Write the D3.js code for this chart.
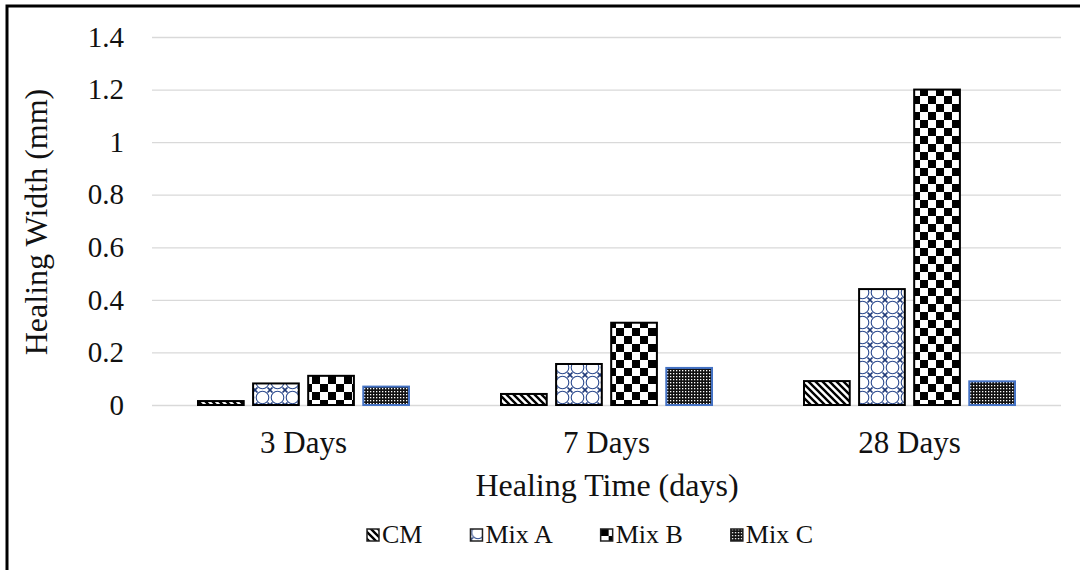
<!DOCTYPE html>
<html>
<head>
<meta charset="utf-8">
<script src="https://cdn.jsdelivr.net/npm/d3@7"></script>
<style>
  body { margin: 0; background: #fff; }
  svg { display: block; font-family: "Liberation Serif", "Times New Roman", serif; }
</style>
</head>
<body>
<svg id="chart" width="1080" height="570"></svg>
<script>
// Data
var categories = ["3 Days", "7 Days", "28 Days"];
var seriesNames = ["CM", "Mix A", "Mix B", "Mix C"];
var cmValues = [0.015, 0.042, 0.091];
var mixAValues = [0.082, 0.156, 0.441];
var mixBValues = [0.111, 0.313, 1.2];
var mixCValues = [0.07, 0.141, 0.09];
var yTickValues = [0, 0.2, 0.4, 0.6, 0.8, 1, 1.2, 1.4];

var seriesValues = [cmValues, mixAValues, mixBValues, mixCValues];

var svg = d3.select("#chart");
var plotLeft = 152, plotRight = 1061, plotTop = 37, plotBottom = 405;

// ydre ramme (kun venstre og top ses)
svg.append("rect")
    .attr("x", 7).attr("y", 6)
    .attr("width", 1100).attr("height", 600)
    .attr("fill", "none")
    .attr("stroke", "#000")
    .attr("stroke-width", 3);

// patterns
var defs = svg.append("defs");

var pCM = defs.append("pattern").attr("id", "pat-cm")
    .attr("patternUnits", "userSpaceOnUse").attr("width", 7).attr("height", 7);
pCM.append("rect").attr("width", 7).attr("height", 7).attr("fill", "#fff");
pCM.append("path").attr("d", "M-1,-1 L8,8 M-4,3 L4,11 M3,-4 L11,4")
    .attr("stroke", "#000").attr("stroke-width", 2.4);

var pA = defs.append("pattern").attr("id", "pat-mixa")
    .attr("patternUnits", "userSpaceOnUse").attr("width", 15).attr("height", 15);
pA.append("rect").attr("width", 15).attr("height", 15).attr("fill", "#fff");
pA.append("circle").attr("cx", 7.5).attr("cy", 7.5).attr("r", 6.3)
    .attr("fill", "none").attr("stroke", "#2b4a8f").attr("stroke-width", 1.1);
pA.append("path").attr("d", "M0,0 L2.5,2.5 M15,0 L12.5,2.5 M0,15 L2.5,12.5 M15,15 L12.5,12.5")
    .attr("stroke", "#1f3a7a").attr("stroke-width", 1.6);

var pB = defs.append("pattern").attr("id", "pat-mixb")
    .attr("patternUnits", "userSpaceOnUse").attr("width", 16).attr("height", 16);
pB.append("rect").attr("width", 16).attr("height", 16).attr("fill", "#fff");
pB.append("rect").attr("x", 0).attr("y", 0).attr("width", 8).attr("height", 8).attr("fill", "#000");
pB.append("rect").attr("x", 8).attr("y", 8).attr("width", 8).attr("height", 8).attr("fill", "#000");

var pC = defs.append("pattern").attr("id", "pat-mixc")
    .attr("patternUnits", "userSpaceOnUse").attr("width", 3).attr("height", 3);
pC.append("rect").attr("width", 3).attr("height", 3).attr("fill", "#111");
pC.append("rect").attr("x", 1).attr("y", 1).attr("width", 1.3).attr("height", 1.3).attr("fill", "#fff");

var fills = ["url(#pat-cm)", "url(#pat-mixa)", "url(#pat-mixb)", "url(#pat-mixc)"];
var strokes = ["#000", "#000", "#000", "#4472c4"];

// scales
var x0 = d3.scaleBand().domain(categories).range([plotLeft, plotRight]);
var x1 = d3.scaleBand().domain(seriesNames)
    .range([46, x0.bandwidth() - 46]).paddingInner(0.17);
var y = d3.scaleLinear().domain([0, 1.4]).range([plotBottom, plotTop]);

// y-akse med gitterlinjer
var yAxis = svg.append("g")
    .attr("transform", "translate(" + plotLeft + ",0)")
    .call(d3.axisLeft(y).tickValues(yTickValues)
        .tickSize(-(plotRight - plotLeft)).tickPadding(28).tickFormat(d3.format("~g")));
yAxis.select(".domain").remove();
yAxis.selectAll(".tick line").attr("stroke", "#d9d9d9").attr("stroke-width", 1.3);
yAxis.selectAll(".tick text")
    .attr("font-family", "Liberation Serif")
    .attr("font-size", 29).attr("fill", "#111");

// bars
var rows = [];
categories.forEach(function(c, i) {
    seriesNames.forEach(function(s, j) {
        rows.push({ cat: c, series: j, value: seriesValues[j][i] });
    });
});

svg.append("g").selectAll("rect")
    .data(rows)
    .enter().append("rect")
    .attr("x", function(d) { return x0(d.cat) + x1(seriesNames[d.series]); })
    .attr("y", function(d) { return y(d.value); })
    .attr("width", x1.bandwidth())
    .attr("height", function(d) { return y(0) - y(d.value); })
    .attr("fill", function(d) { return fills[d.series]; })
    .attr("stroke", function(d) { return strokes[d.series]; })
    .attr("stroke-width", 2);

// kategori-akse
var xAxis = svg.append("g")
    .attr("transform", "translate(0," + plotBottom + ")")
    .call(d3.axisBottom(x0).tickSize(0).tickPadding(26));
xAxis.select(".domain").remove();
xAxis.selectAll(".tick text")
    .attr("font-family", "Liberation Serif")
    .attr("font-size", 31).attr("fill", "#111");

// aksetitler
svg.append("text")
    .attr("transform", "translate(47,222) rotate(-90)")
    .attr("text-anchor", "middle")
    .attr("font-size", 32).attr("fill", "#111")
    .text("Healing Width (mm)");

svg.append("text")
    .attr("x", 607).attr("y", 496)
    .attr("text-anchor", "middle")
    .attr("font-size", 32).attr("fill", "#111")
    .text("Healing Time (days)");

// legend
var legend = svg.append("g");
var lx = 367;
seriesNames.forEach(function(s, i) {
    var item = legend.append("g").attr("transform", "translate(" + lx + ",0)");
    item.append("rect")
        .attr("x", 0).attr("y", 529)
        .attr("width", 12).attr("height", 12)
        .attr("fill", fills[i])
        .attr("stroke", "#222").attr("stroke-width", 1.5);
    var t = item.append("text")
        .attr("x", 15).attr("y", 543)
        .attr("font-size", 26).attr("fill", "#111")
        .text(s);
    lx += 15 + t.node().getComputedTextLength() + 48;
});
</script>
</body>
</html>
